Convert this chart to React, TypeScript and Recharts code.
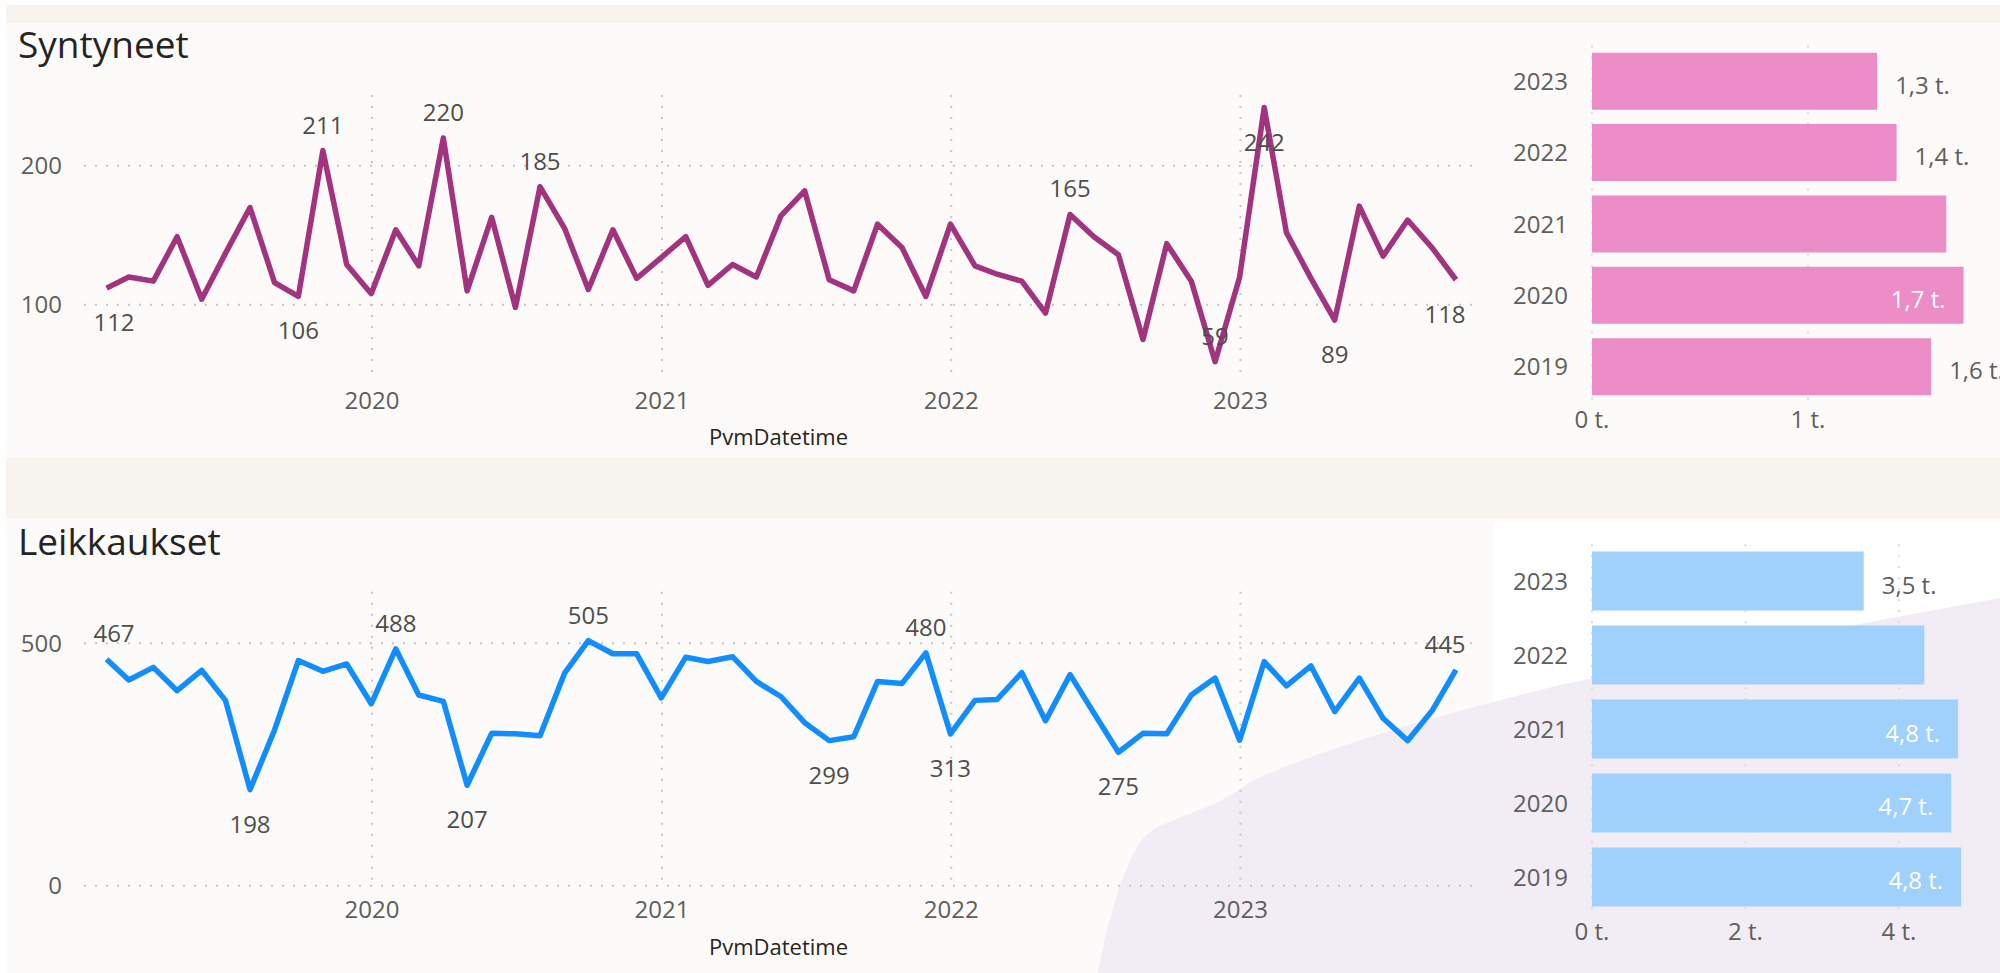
import { LineChart, Line, BarChart, Bar, XAxis, YAxis, CartesianGrid } from 'recharts';

const MONTHS = [
  '2019-01', '2019-02', '2019-03', '2019-04', '2019-05', '2019-06', '2019-07', '2019-08', '2019-09', '2019-10', '2019-11', '2019-12',
  '2020-01', '2020-02', '2020-03', '2020-04', '2020-05', '2020-06', '2020-07', '2020-08', '2020-09', '2020-10', '2020-11', '2020-12',
  '2021-01', '2021-02', '2021-03', '2021-04', '2021-05', '2021-06', '2021-07', '2021-08', '2021-09', '2021-10', '2021-11', '2021-12',
  '2022-01', '2022-02', '2022-03', '2022-04', '2022-05', '2022-06', '2022-07', '2022-08', '2022-09', '2022-10', '2022-11', '2022-12',
  '2023-01', '2023-02', '2023-03', '2023-04', '2023-05', '2023-06', '2023-07', '2023-08', '2023-09',
];

const SYNTYNEET = [
  112, 120, 117, 149, 104, 137, 170, 116, 106, 211, 129, 108,
  154, 128, 220, 110, 163, 98, 185, 155, 111, 154, 119, 134,
  149, 114, 129, 120, 164, 182, 118, 110, 158, 141, 106, 158,
  128, 122, 117, 94, 165, 149, 136, 75, 144, 117, 59, 120,
  242, 152, 119, 89, 171, 135, 161, 141, 118,
];

const LEIKKAUKSET = [
  467, 424, 450, 402, 444, 382, 198, 321, 464, 442, 457, 375,
  488, 393, 380, 207, 314, 313, 309, 438, 505, 478, 478, 387,
  471, 462, 472, 421, 390, 336, 299, 307, 421, 417, 480, 313,
  382, 384, 439, 340, 435, 356, 275, 314, 313, 393, 428, 300,
  462, 412, 453, 359, 428, 345, 299, 361, 445,
];

const YEARS = ['2023', '2022', '2021', '2020', '2019'];
const SYNTYNEET_YEAR = [1320, 1410, 1640, 1720, 1570];
const LEIKKAUKSET_YEAR = [3540, 4330, 4770, 4680, 4810];

const YEAR_TICKS = [2020, 2021, 2022, 2023];

// points that carry a data label in the report
const SYNT_ABOVE = [9, 14, 18, 40, 46];
const SYNT_BELOW = [0, 8, 48, 51, 56];
const LEIK_ABOVE = [0, 12, 20, 34, 56];
const LEIK_BELOW = [6, 15, 30, 35, 42];

// bar label placement (Power BI auto)
const SYNT_BAR_LABELS = ['out', 'out', 'none', 'in', 'out'];
const LEIK_BAR_LABELS = ['out', 'none', 'in', 'in', 'in'];

const FONT = "'Open Sans', sans-serif";
const TICK = { fill: '#605E5C', fontSize: 24 };
const GRID = '#C8C6C4';

const monthEnd = (m: string) => {
  const [y, mo] = m.split('-').map(Number);
  return Date.UTC(y, mo, 0);
};

const X_DOMAIN = [Date.UTC(2019, 0, 2, 12), Date.UTC(2023, 9, 21, 12)];
const X_TICKS = YEAR_TICKS.map((y) => Date.UTC(y, 0, 1));

const syntData = MONTHS.map((m, i) => ({ t: monthEnd(m), v: SYNTYNEET[i] }));
const leikData = MONTHS.map((m, i) => ({ t: monthEnd(m), v: LEIKKAUKSET[i] }));
const syntBars = YEARS.map((y, i) => ({ year: y, v: SYNTYNEET_YEAR[i] }));
const leikBars = YEARS.map((y, i) => ({ year: y, v: LEIKKAUKSET_YEAR[i] }));

const fmtT = (v: number) => `${(v / 1000).toFixed(1).replace('.', ',')} t.`;

const pointLabel = (above: number[], below: number[]) => (props: any) => {
  const { x, y, value, index } = props;
  const up = above.includes(index);
  if (!up && !below.includes(index)) return null;
  const half = String(value).length * 7;
  const cx = Math.max(93 + half, Math.min(1466 - half, x));
  return (
    <text key={index} x={cx} y={up ? y - 17 : y + 43} textAnchor="middle" fill="#4F4D4B" fontSize={24}>
      {value}
    </text>
  );
};

const barLabel = (modes: string[]) => (props: any) => {
  const { x, y, width, height, value, index } = props;
  const mode = modes[index];
  if (mode === 'none') return null;
  const inside = mode === 'in';
  return (
    <text
      key={index}
      x={inside ? x + width - 18 : x + width + 18}
      y={y + height / 2 + 12.5}
      textAnchor={inside ? 'end' : 'start'}
      fill={inside ? '#fff' : '#605E5C'}
      fontSize={24}
    >
      {fmtT(value)}
    </text>
  );
};

function TrendChart({ data, color, domain, ticks, top, height, marginTop, axisHeight, titleOffset, above, below }: any) {
  return (
    <div style={{ position: 'absolute', left: 0, top }}>
      <LineChart width={1500} height={height} data={data} margin={{ top: marginTop, right: 27, left: 0, bottom: 0 }}>
        <CartesianGrid
          stroke={GRID}
          strokeWidth={2}
          strokeDasharray="2 9"
          horizontalValues={ticks}
          verticalValues={X_TICKS}
        />
        <XAxis
          dataKey="t"
          type="number"
          domain={X_DOMAIN}
          ticks={X_TICKS}
          allowDataOverflow
          tickFormatter={(t: number) => String(new Date(t).getUTCFullYear())}
          axisLine={false}
          tickLine={false}
          tickSize={0}
          tickMargin={15}
          tick={TICK}
          height={axisHeight}
          label={{ value: 'PvmDatetime', position: 'insideBottom', offset: titleOffset, fill: '#252423', fontSize: 22 }}
        />
        <YAxis
          type="number"
          domain={domain}
          ticks={ticks}
          allowDataOverflow
          axisLine={false}
          tickLine={false}
          tickSize={0}
          tickMargin={22}
          tick={TICK}
          width={84}
        />
        <Line
          type="linear"
          dataKey="v"
          stroke={color}
          strokeWidth={5.5}
          strokeLinejoin="round"
          dot={false}
          isAnimationActive={false}
          label={pointLabel(above, below)}
        />
      </LineChart>
    </div>
  );
}

function YearBars({ data, color, max, ticks, top, height, marginTop, axisHeight, tickMargin, modes }: any) {
  return (
    <div style={{ position: 'absolute', left: 1496, top }}>
      <BarChart
        width={504}
        height={height}
        data={data}
        layout="vertical"
        barCategoryGap="10%"
        margin={{ top: marginTop, right: 25, left: 0, bottom: 0 }}
      >
        <CartesianGrid
          horizontal={false}
          stroke="#DDDBD9"
          strokeWidth={2}
          strokeDasharray="2 9"
          verticalValues={ticks}
        />
        <XAxis
          type="number"
          domain={[0, max]}
          ticks={ticks}
          allowDataOverflow
          tickFormatter={(v: number) => `${v / 1000} t.`}
          axisLine={false}
          tickLine={false}
          tickSize={0}
          tickMargin={tickMargin}
          tick={TICK}
          height={axisHeight}
        />
        <YAxis
          type="category"
          dataKey="year"
          axisLine={false}
          tickLine={false}
          tickSize={0}
          tickMargin={24}
          tick={TICK}
          width={96}
        />
        <Bar dataKey="v" fill={color} isAnimationActive={false} label={barLabel(modes)} />
      </BarChart>
    </div>
  );
}

export default function App() {
  return (
    <div style={{ position: 'absolute', left: 0, top: 0, width: 2000, height: 973, overflow: 'hidden', fontFamily: FONT, background: '#fff' }}>
      <svg width={2000} height={973} style={{ position: 'absolute', left: 0, top: 0 }}>
        <rect x={6} y={5} width={1994} height={18} fill="#F7F4EF" />
        <rect x={6} y={23} width={1994} height={435} fill="#FCFBF9" />
        <rect x={6} y={458} width={1994} height={60} fill="#F7F4EF" />
        <rect x={6} y={518} width={1994} height={455} fill="#FCFBF9" />
        <rect x={1493} y={522} width={507} height={451} fill="#FFFFFF" />
        <path
          d="M 1098 973 C 1106 930, 1125 850, 1150 832 C 1175 815, 1215 810, 1250 782 C 1330 745, 1450 712, 1560 685 C 1700 655, 1850 625, 2000 598 L 2000 973 Z"
          fill="#F2ECF4"
        />
        <text x={18} y={58} fontSize={37} fill="#252423">Syntyneet</text>
        <text x={18} y={555} fontSize={37} fill="#252423">Leikkaukset</text>
      </svg>
      <TrendChart
        data={syntData}
        color="#A2337F"
        domain={[48, 251]}
        ticks={[100, 200]}
        top={23}
        height={435}
        marginTop={72}
        axisHeight={81}
        titleOffset={13}
        above={SYNT_ABOVE}
        below={SYNT_BELOW}
      />
      <TrendChart
        data={leikData}
        color="#118DFF"
        domain={[0, 606]}
        ticks={[0, 500]}
        top={518}
        height={455}
        marginTop={73.7}
        axisHeight={87.3}
        titleOffset={18}
        above={LEIK_ABOVE}
        below={LEIK_BELOW}
      />
      <YearBars
        data={syntBars}
        color="#EC8DC8"
        max={1773}
        ticks={[0, 1000]}
        top={23}
        height={435}
        marginTop={22.5}
        axisHeight={55.5}
        tickMargin={8}
        modes={SYNT_BAR_LABELS}
      />
      <YearBars
        data={leikBars}
        color="#A0D0FC"
        max={4990}
        ticks={[0, 2000, 4000]}
        top={518}
        height={455}
        marginTop={26.2}
        axisHeight={59}
        tickMargin={9}
        modes={LEIK_BAR_LABELS}
      />
    </div>
  );
}
